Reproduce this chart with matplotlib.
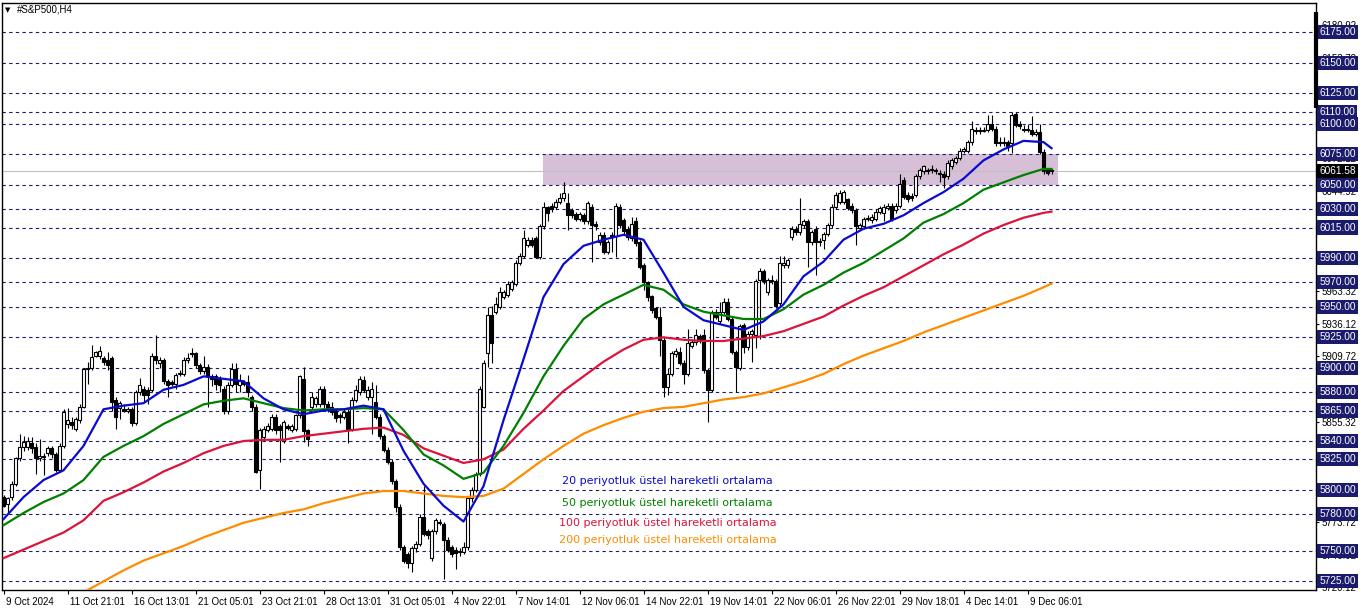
import numpy as np
import matplotlib.pyplot as plt
from matplotlib.transforms import ScaledTranslation

plt.rcParams['font.family'] = ['Liberation Sans', 'DejaVu Sans']

# H4 candles (one value per bar)
opens = [5794,5788,5794,5805,5826,5835,5835,5838,5835,5826,
         5828,5830,5834,5829,5816,5836,5854,5856,5850,5857,
         5868,5899,5900,5910,5910,5908,5906,5908,5874,5867,
         5866,5865,5866,5855,5880,5883,5882,5882,5910,5904,
         5906,5889,5888,5887,5895,5895,5906,5912,5912,5902,
         5897,5901,5893,5893,5891,5883,5865,5886,5899,5886,
         5888,5888,5876,5868,5816,5843,5849,5850,5860,5852,
         5840,5852,5849,5850,5861,5891,5849,5868,5870,5870,
         5883,5870,5868,5865,5861,5860,5864,5850,5874,5880,
         5890,5876,5876,5872,5860,5844,5833,5823,5807,5786,
         5753,5747,5740,5752,5756,5778,5766,5744,5766,5774,
         5772,5759,5753,5751,5749,5749,5753,5793,5800,5813,
         5868,5912,5943,5946,5950,5958,5960,5965,5969,5986,
         5992,6001,6005,6006,5991,6016,6032,6033,6032,6036,
         6039,6035,6029,6026,6022,6025,6020,6032,6018,6003,
         6009,5995,6009,6008,6032,6021,6014,6006,6020,6003,
         5984,5970,5959,5949,5942,5923,5884,5895,5911,5913,
         5904,5895,5918,5921,5926,5927,5898,5882,5946,5938,
         5946,5954,5940,5913,5900,5935,5917,5928,5927,5972,
         5979,5962,5972,5971,5953,5984,5984,6007,6014,6011,
         6017,6020,6003,6014,6003,6005,6010,6017,6032,6036,
         6036,6038,6033,6029,6015,6016,6022,6021,6022,6028,
         6027,6031,6033,6029,6033,6054,6042,6041,6042,6057,
         6061,6061,6062,6062,6059,6059,6057,6065,6069,6072,
         6078,6078,6085,6095,6094,6094,6095,6100,6096,6084,
         6084,6085,6084,6108,6100,6095,6096,6095,6092,6093,
         6077,6062,6062]
highs = [5796,5794,5807,5827,5846,5844,5843,5843,5838,5842,
         5830,5836,5836,5831,5838,5866,5867,5860,5860,5870,
         5900,5905,5919,5914,5918,5910,5913,5910,5876,5873,
         5870,5868,5868,5882,5892,5885,5884,5912,5927,5909,
         5908,5891,5890,5896,5898,5909,5912,5916,5913,5904,
         5910,5903,5895,5895,5893,5885,5888,5904,5904,5895,
         5890,5894,5878,5870,5851,5852,5855,5862,5862,5854,
         5857,5854,5854,5862,5894,5901,5850,5880,5877,5885,
         5885,5873,5872,5867,5863,5866,5866,5876,5886,5893,
         5893,5885,5888,5886,5862,5846,5835,5825,5809,5788,
         5755,5749,5754,5758,5780,5803,5768,5768,5777,5776,
         5774,5761,5755,5753,5752,5757,5795,5802,5815,5885,
         5906,5950,5951,5958,5966,5964,5971,5972,5988,5994,
         6013,6007,6007,6008,6018,6036,6033,6035,6038,6043,
         6052,6043,6031,6028,6028,6027,6037,6034,6020,6011,
         6011,6005,6011,6035,6034,6023,6016,6024,6024,6005,
         5986,5971,5960,5950,5950,5925,5900,5914,5916,5917,
         5906,5932,5923,5932,5928,5932,5900,5947,5948,5954,
         5957,5957,5942,5915,5936,5937,5930,5932,5973,5982,
         5981,5974,5976,5973,5992,5992,5990,6016,6016,6039,
         6022,6022,6013,6016,6006,6011,6019,6034,6044,6046,
         6046,6039,6035,6031,6019,6024,6025,6026,6030,6033,
         6034,6035,6035,6035,6059,6056,6044,6043,6059,6064,
         6066,6064,6066,6064,6062,6061,6070,6072,6074,6080,
         6081,6087,6102,6097,6097,6097,6107,6107,6098,6089,
         6089,6087,6110,6110,6102,6099,6100,6106,6096,6100,
         6079,6064,6063]
lows = [5786,5781,5792,5803,5824,5832,5833,5830,5813,5824,
        5812,5828,5826,5815,5815,5834,5851,5850,5848,5855,
        5867,5887,5898,5909,5907,5902,5898,5865,5850,5858,
        5864,5863,5852,5853,5878,5872,5870,5880,5903,5900,
        5887,5876,5885,5883,5893,5893,5904,5909,5900,5895,
        5895,5868,5885,5882,5880,5862,5862,5884,5880,5880,
        5885,5876,5865,5814,5801,5840,5847,5848,5846,5823,
        5838,5849,5847,5848,5859,5839,5836,5866,5868,5868,
        5867,5864,5861,5856,5855,5858,5838,5848,5872,5878,
        5880,5874,5846,5858,5842,5831,5821,5805,5782,5751,
        5740,5736,5733,5749,5754,5762,5760,5742,5764,5771,
        5727,5749,5745,5735,5746,5747,5751,5790,5798,5811,
        5867,5901,5904,5944,5948,5956,5958,5963,5967,5984,
        5990,5999,5999,5990,5989,6014,6020,6028,6030,6034,
        6037,6013,6023,6020,6020,6018,6018,5987,6013,6001,
        5993,5993,5995,5991,6015,6010,6005,6004,6000,5981,
        5964,5955,5945,5940,5910,5876,5878,5893,5909,5902,
        5887,5893,5916,5919,5920,5896,5856,5880,5940,5936,
        5944,5938,5911,5880,5898,5912,5915,5905,5916,5924,
        5969,5960,5969,5949,5951,5982,5982,6005,6009,6009,
        6015,5983,6001,5976,6000,5997,6008,6015,6030,6034,
        6034,6029,6027,6001,6013,6014,6020,6019,6020,6026,
        6020,6029,6020,6027,6031,6038,6036,6037,6040,6055,
        6059,6059,6060,6059,6052,6047,6055,6063,6067,6070,
        6076,6076,6083,6092,6092,6093,6093,6094,6082,6082,
        6082,6078,6076,6097,6096,6093,6093,6090,6090,6075,
        6059,6058,6059]
closes = [5787,5793,5805,5826,5835,5839,5840,5834,5826,5828,
          5827,5834,5829,5816,5836,5864,5857,5853,5858,5868,
          5899,5900,5909,5913,5914,5905,5902,5872,5860,5871,
          5865,5866,5855,5880,5886,5878,5878,5910,5906,5906,
          5889,5886,5887,5894,5896,5906,5908,5911,5902,5897,
          5901,5893,5891,5887,5886,5865,5886,5899,5887,5889,
          5887,5880,5868,5815,5849,5850,5852,5860,5849,5849,
          5856,5851,5852,5861,5893,5848,5842,5876,5875,5883,
          5870,5867,5864,5859,5860,5864,5850,5874,5882,5891,
          5882,5882,5883,5860,5844,5833,5823,5807,5786,5753,
          5742,5740,5752,5756,5778,5764,5763,5766,5775,5773,
          5759,5751,5747,5748,5750,5753,5793,5800,5813,5883,
          5904,5943,5920,5952,5962,5962,5969,5970,5986,5992,
          6006,6005,6001,5991,6016,6032,6027,6030,6036,6039,
          6043,6025,6025,6022,6026,6020,6035,6017,6016,6009,
          5995,6003,6007,6033,6017,6012,6007,6018,6002,5983,
          5970,5958,5947,5942,5923,5884,5895,5912,5914,5904,
          5895,5920,5921,5927,5922,5898,5882,5946,5942,5946,
          5954,5940,5913,5901,5934,5917,5928,5930,5971,5979,
          5971,5972,5971,5951,5986,5986,5988,6014,6011,6018,
          6020,6003,6011,6003,6004,6010,6017,6032,6042,6043,
          6044,6031,6029,6016,6017,6022,6023,6024,6028,6031,
          6032,6033,6022,6033,6051,6040,6038,6039,6057,6062,
          6065,6062,6063,6061,6060,6056,6068,6070,6072,6078,
          6079,6085,6096,6094,6095,6095,6100,6096,6084,6085,
          6085,6081,6107,6099,6098,6096,6095,6092,6093,6077,
          6061,6060,6061.58]

# moving averages read every 5 bars
ema_bars = list(range(0, 261, 5)) + [262]
ema20 = [5776,5794,5808,5816,5836,5866,5869,5871,5882,5886,
         5893,5891,5889,5875,5866,5862,5865,5866,5869,5866,
         5832,5805,5787,5774,5803,5857,5907,5958,5985,6000,
         6005,6009,6005,5978,5950,5939,5935,5931,5938,5952,
         5975,5987,6005,6014,6018,6025,6035,6044,6055,6070,
         6079,6086,6085,6080]
ema50 = [5771,5781,5790,5797,5808,5827,5836,5844,5854,5862,
         5870,5873,5875,5871,5867,5865,5866,5866,5867,5866,
         5849,5829,5820,5809,5814,5836,5863,5893,5918,5940,
         5952,5960,5968,5964,5952,5946,5943,5940,5940,5948,
         5960,5968,5978,5986,5996,6006,6019,6026,6035,6046,
         6052,6058,6063,6063]
ema100 = [5744,5751,5758,5765,5775,5791,5798,5806,5815,5822,
          5830,5836,5840,5841,5841,5844,5846,5848,5850,5851,
          5845,5834,5828,5822,5825,5833,5850,5865,5881,5893,
          5905,5915,5923,5925,5923,5922,5922,5924,5926,5930,
          5936,5942,5951,5959,5966,5975,5984,5993,6001,6010,
          6017,6023,6027,6028]
ema200 = [np.nan,np.nan,np.nan,5709,5716,5725,5734,5742,5748,5754,
          5761,5767,5773,5777,5781,5784,5789,5793,5797,5799,
          5799,5797,5795,5794,5795,5801,5813,5825,5836,5846,
          5853,5859,5864,5867,5868,5871,5874,5876,5879,5884,
          5889,5895,5903,5910,5916,5922,5929,5935,5941,5947,
          5953,5959,5966,5969]

levels = [6175,6150,6125,6110,6100,6075,6050,6030,6015,5990,5970,
          5950,5925,5900,5880,5865,5840,5825,5800,5780,5750,5725]
scale_labels = ["6180.92","6153.72","6126.52","6099.32","6072.12","6044.92",
                "6017.72","5990.52","5963.32","5936.12","5909.72","5882.52",
                "5855.32","5828.12","5800.92","5773.72","5746.92","5720.12"]
date_labels = ["9 Oct 2024","11 Oct 21:01","16 Oct 13:01","21 Oct 05:01",
               "23 Oct 21:01","28 Oct 13:01","31 Oct 05:01","4 Nov 22:01",
               "7 Nov 14:01","12 Nov 06:01","14 Nov 22:01","19 Nov 14:01",
               "22 Nov 06:01","26 Nov 22:01","29 Nov 18:01","4 Dec 14:01",
               "9 Dec 06:01"]
last_price = 6061.58
zone_low, zone_high = 6050, 6075
zone_start, zone_end = 134.9, 263.6

legend_texts = ["20 periyotluk üstel hareketli ortalama",
                "50 periyotluk üstel hareketli ortalama",
                "100 periyotluk üstel hareketli ortalama",
                "200 periyotluk üstel hareketli ortalama"]
ema_colors = ["#0a0ad0", "#008000", "#dc143c", "#ff8c00"]
navy = "#1b1b6e"

W, H = 1362, 611
fig = plt.figure(figsize=(W / 100, H / 100), dpi=100)
ax = fig.add_axes([2 / W, 21 / H, 1314 / W, 587 / H])
ax.set_xlim(-0.375, 328.125)
ax.set_ylim(5717.9, 6199.0)

o = np.array(opens, float)
hi = np.array(highs, float)
lo = np.array(lows, float)
c = np.array(closes, float)
x = np.arange(len(o))

ax.fill_between([zone_start, zone_end], zone_low, zone_high,
                color="#d7bfd7", lw=0, zorder=0.5)
for lv in levels:
    ax.axhline(lv, color=navy, lw=0.8, ls=(0, (3, 3)), zorder=1)
ax.axhline(last_price, color="#c0c0c0", lw=0.8, zorder=1.2)

# candles
ax.vlines(x, lo, hi, color="black", lw=0.8, zorder=3)
up = c >= o
body = np.abs(c - o)
body = np.where(body < 0.3, 0.3, body)
bottom = np.minimum(o, c)
ax.bar(x[up], body[up], bottom=bottom[up], width=0.55, color="white",
       edgecolor="black", linewidth=0.8, zorder=3.5)
ax.bar(x[~up], body[~up], bottom=bottom[~up], width=0.55, color="black",
       edgecolor="black", linewidth=0.8, zorder=3.5)

for vals, col in zip([ema200, ema100, ema50, ema20], ema_colors[::-1]):
    ax.plot(ema_bars, vals, color=col, lw=1.6, zorder=4)

for i, (t, col) in enumerate(zip(legend_texts, ema_colors)):
    ax.text(166, [5807, 5789, 5773, 5759][i], t, color=col, fontsize=8.0,
            ha="center", va="center", family=["DejaVu Sans"], zorder=5)

# axes styling
for s in ax.spines.values():
    s.set_color("black")
    s.set_linewidth(1)
ax.yaxis.tick_right()
ax.set_yticks([float(s) for s in scale_labels])
ax.set_yticklabels(scale_labels, fontsize=7)
ax.tick_params(axis="y", length=2.5, pad=1.5, width=0.8)
ax.set_xticks(np.arange(0, 257, 16))
ax.set_xticklabels(date_labels, fontsize=7, ha="left")
ax.tick_params(axis="x", length=3, pad=2, width=0.8)
off = ScaledTranslation(1.5 / 72, 0, fig.dpi_scale_trans)
for lbl in ax.get_xticklabels():
    lbl.set_transform(lbl.get_transform() + off)

ytr = ax.get_yaxis_transform()
for lv in levels:
    ax.text(1.0025, lv, f"{lv:.2f}", transform=ytr, fontsize=7.3, color="white",
            ha="left", va="center", clip_on=False, zorder=10,
            bbox=dict(boxstyle="square,pad=0.2", fc=navy, ec="none"))
ax.text(1.0025, last_price, f"{last_price:.2f}", transform=ytr, fontsize=7.3,
        color="white", ha="left", va="center", clip_on=False, zorder=11,
        bbox=dict(boxstyle="square,pad=0.2", fc="black", ec="none"))
ax.plot([1, 1], [6191.6, 6112.9], transform=ytr, color="black", lw=3,
        clip_on=False, zorder=12, solid_capstyle="butt")

fig.text(5 / W, 1 - 10 / H, "\u25bc", fontsize=5, va="center",
         family=["DejaVu Sans"])
fig.text(17 / W, 1 - 10 / H, "#S&P500,H4", fontsize=7, va="center")

fig.savefig("out.png", dpi=100, facecolor="white")
